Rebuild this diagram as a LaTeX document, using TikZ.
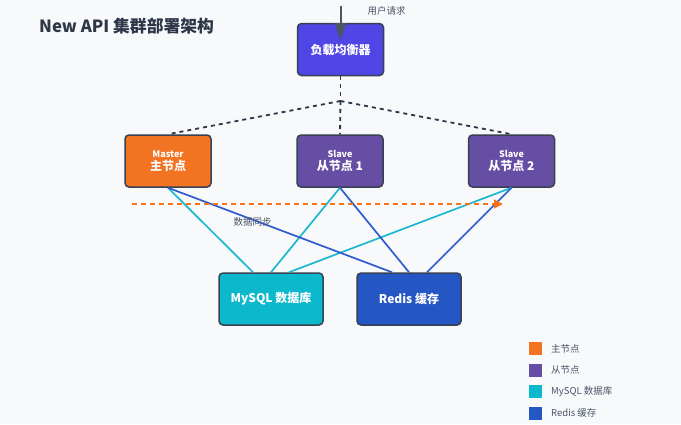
\documentclass[tikz,border=0pt]{standalone}
\usepackage{fontspec}
\setmainfont{Noto Sans CJK SC}
\usetikzlibrary{arrows.meta,calc}
\definecolor{bg}{HTML}{F8F9FB}
\definecolor{bordc}{HTML}{374151}
\definecolor{lbc}{HTML}{4F46E5}
\definecolor{masterc}{HTML}{F27322}
\definecolor{slavec}{HTML}{654EA3}
\definecolor{mysqlc}{HTML}{0CB8CB}
\definecolor{redisc}{HTML}{2456C4}
\definecolor{titlec}{HTML}{2D3748}
\definecolor{graytext}{HTML}{4A5568}
\definecolor{arrowgray}{HTML}{4B5563}
\definecolor{dashc}{HTML}{2D3748}
\definecolor{cyanline}{HTML}{1BB8D0}
\definecolor{blueline}{HTML}{2F5BCF}
\definecolor{syncc}{HTML}{F97316}
\tikzset{
  box/.style={draw=bordc, line width=1.5pt, rounded corners=4pt, text=white,
    align=center, inner sep=0pt, minimum width=86pt, minimum height=52pt,
    font=\bfseries\fontsize{12}{13.5}\selectfont},
  widebox/.style={box, minimum width=104pt},
  dashline/.style={draw=dashc, line width=1.8pt, dash pattern=on 4pt off 4pt},
  cline/.style={draw=cyanline, line width=1.7pt},
  bline/.style={draw=blueline, line width=1.7pt},
  legsq/.style={minimum width=13pt, minimum height=13pt, inner sep=0pt},
  legtxt/.style={anchor=west, text=graytext, font=\fontsize{9.5}{11}\selectfont, inner sep=0pt},
  small/.style={text=graytext, font=\fontsize{9.5}{11}\selectfont, inner sep=0pt}
}
\begin{document}
\begin{tikzpicture}[x=1pt,y=-1pt]
\fill[bg] (0,0) rectangle (681,424);
\useasboundingbox (0,0) rectangle (681,424);

\node[anchor=west, text=titlec, font=\bfseries\fontsize{16.8}{18}\selectfont, inner sep=0pt] (title) at (39,26) {New API 集群部署架构};

% boxes
\node[box, fill=lbc] (lb) at (340.5,49.5) {负载均衡器};
\node[box, fill=masterc] (m) at (168,161) {{\fontsize{9}{10}\selectfont Master}\\主节点};
\node[box, fill=slavec] (s1) at (340,161) {{\fontsize{9}{10}\selectfont Slave}\\从节点 1};
\node[box, fill=slavec] (s2) at (511.5,161) {{\fontsize{9}{10}\selectfont Slave}\\从节点 2};
\node[widebox, fill=mysqlc] (my) at (271,299) {MySQL 数据库};
\node[widebox, fill=redisc] (rd) at (409,299) {Redis 缓存};

% user request arrow
\coordinate (u) at (340.5,6);
\coordinate (tip) at (340.5,40);
\draw[draw=arrowgray, line width=2pt, -{Triangle[length=17pt,width=11pt]}] (u) -- (tip);
\node[small] (ul) at (386.5,11) {用户请求};

% dashed distribution
\coordinate (j) at (340.5,101);
\draw[dashline] (lb.south) -- (j);
\draw[dashline] (j) -- (m.north);
\draw[dashline] (j) -- (s1.north);
\draw[dashline] (j) -- (s2.north);

% db connections
\draw[cline] (m.south) -- ($(my.north)+(-18,0)$);
\draw[cline] (s1.south) -- (my.north);
\draw[cline] (s2.south) -- ($(my.north)+(18,0)$);
\draw[bline] (m.south) -- ($(rd.north)+(-17,0)$);
\draw[bline] (s1.south) -- (rd.north);
\draw[bline] ($(rd.north)+(18,0)$) -- (s2.south);

% sync arrow
\coordinate (os) at (132,204);
\coordinate (oe) at (503,204);
\draw[draw=syncc, line width=1.7pt, dash pattern=on 5pt off 4pt, -{Triangle[length=9pt,width=9pt]}] (os) -- (oe);
\node[small] (sl) at (252.5,222) {数据同步};

% legend
\node[legsq, fill=masterc] (l1) at (535.5,348.5) {};
\node[legtxt] (t1) at (551,348.5) {主节点};
\node[legsq, fill=slavec] (l2) at (535.5,370) {};
\node[legtxt] (t2) at (551,370) {从节点};
\node[legsq, fill=mysqlc] (l3) at (535.5,391.5) {};
\node[legtxt] (t3) at (551,391.5) {MySQL 数据库};
\node[legsq, fill=redisc] (l4) at (535.5,413) {};
\node[legtxt] (t4) at (551,413) {Redis 缓存};
\end{tikzpicture}
\end{document}
